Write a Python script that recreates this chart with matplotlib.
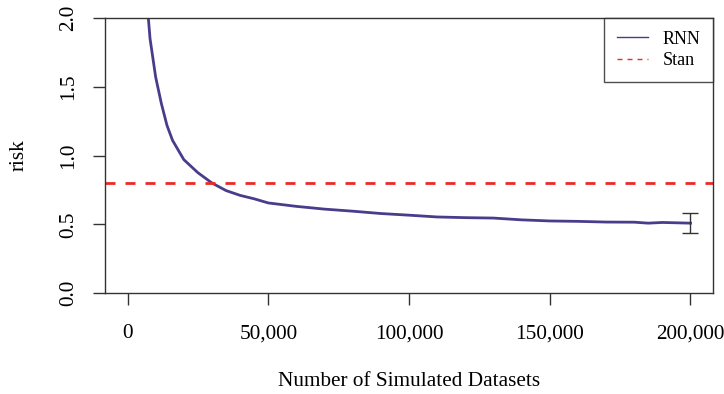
import matplotlib
matplotlib.use("Agg")
from matplotlib import pyplot as plt

# values
n_datasets = [6000, 8000, 10000, 12000, 14000, 16000, 20000, 25000, 30000, 35000,
              40000, 45000, 50000, 60000, 70000, 80000, 90000, 100000, 110000,
              120000, 130000, 140000, 150000, 160000, 170000, 180000, 185000,
              190000, 200000]
rnn_risk = [2.35, 1.85, 1.57, 1.38, 1.22, 1.11, 0.97, 0.875, 0.80, 0.745,
            0.71, 0.685, 0.655, 0.63, 0.61, 0.595, 0.578, 0.566, 0.553,
            0.548, 0.545, 0.532, 0.524, 0.521, 0.516, 0.515, 0.508,
            0.513, 0.508]
stan_risk = 0.80
err_x = 200000
err_y = 0.508
err_low = 0.439
err_high = 0.584
xticks = [0, 50000, 100000, 150000, 200000]
xtick_labels = ["0", "50,000", "100,000", "150,000", "200,000"]
yticks = [0.0, 0.5, 1.0, 1.5, 2.0]

plt.rcParams['font.family'] = ['Liberation Serif', 'DejaVu Serif']

fig = plt.figure(figsize=(7.24, 3.94), dpi=100)
ax = fig.add_axes([105 / 724, 101 / 394, 608 / 724, 275 / 394])

ax.plot(n_datasets, rnn_risk, color="#483D8B", lw=2.0, label="RNN")
ax.axhline(stan_risk, color="#EE2828", lw=2.0, linestyle=(0, (3.6, 3.6)), label="Stan")
ax.errorbar([err_x], [err_y], yerr=[[err_y - err_low], [err_high - err_y]],
            fmt="none", ecolor="#333333", elinewidth=1.0, capsize=6, capthick=1.0)

ax.set_xlim(-8000, 208000)
ax.set_ylim(0, 2)
ax.set_xticks(xticks)
ax.set_xticklabels(xtick_labels)
ax.set_yticks(yticks)
ax.set_yticklabels(["%.1f" % v for v in yticks], rotation=90, va="center")

for s in ax.spines.values():
    s.set_color("#333333")
    s.set_linewidth(1.0)
ax.tick_params(direction="out", length=8.5, width=1.0, color="#333333",
               labelsize=15.3)
ax.tick_params(axis="x", pad=14)
ax.tick_params(axis="y", pad=11)

ax.set_xlabel("Number of Simulated Datasets", fontsize=15.3, labelpad=21)
ax.set_ylabel("risk", fontsize=15.3, labelpad=22)

leg = ax.legend(loc="upper right", bbox_to_anchor=(1, 1), borderaxespad=0,
                fancybox=False, edgecolor="#222222", fontsize=13,
                handlelength=1.75, handletextpad=0.8, labelspacing=0.25,
                borderpad=0.7)
leg.get_frame().set_linewidth(1.0)
for line in leg.get_lines():
    line.set_linewidth(1.0)

plt.savefig("out.png", dpi=100)
